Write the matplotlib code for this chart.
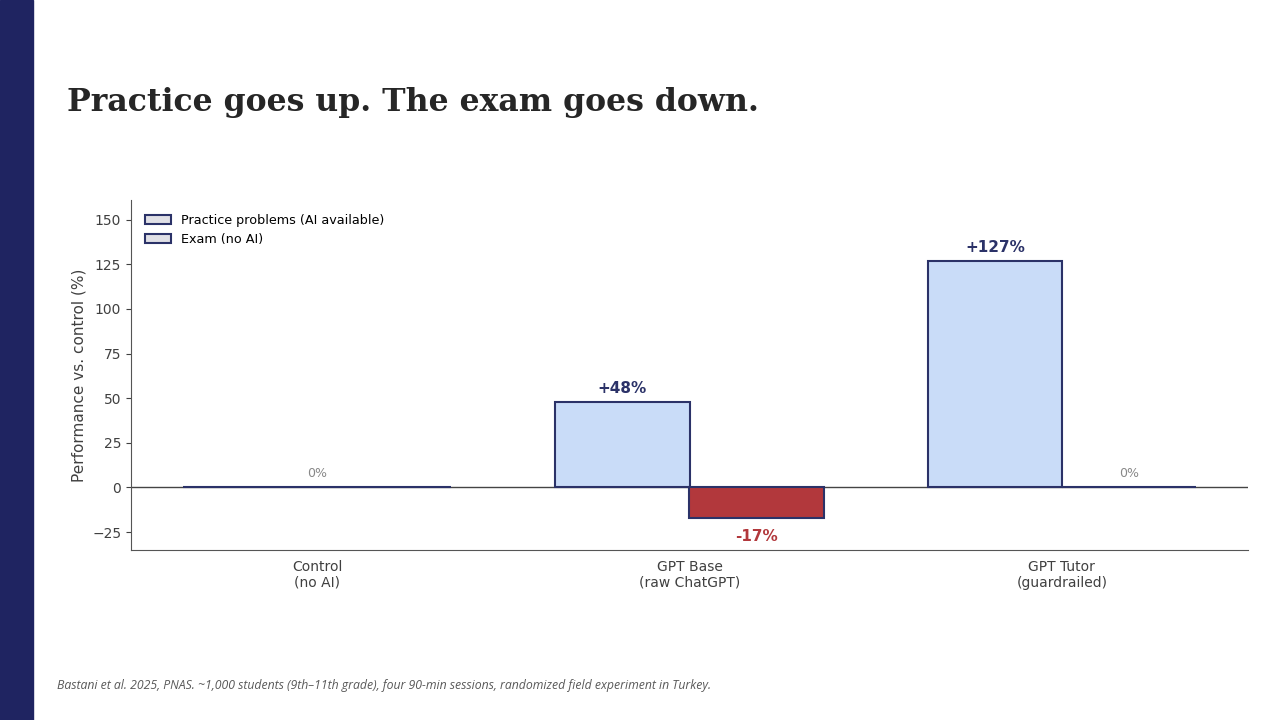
import numpy as np
import matplotlib.pyplot as plt
from matplotlib.patches import Rectangle, Patch

# data
groups = ['Control\n(no AI)', 'GPT Base\n(raw ChatGPT)', 'GPT Tutor\n(guardrailed)']
practice = [0, 48, 127]
exam = [0, -17, 0]
practice_labels = ['', '+48%', '+127%']
exam_labels = ['0%', '-17%', '0%']

navy = '#2b3268'
light_blue = '#c9dcf8'
red = '#b2383c'

fig = plt.figure(figsize=(12.8, 7.2), dpi=100)
fig.patch.set_facecolor('white')

# left stripe
fig.add_artist(Rectangle((0, 0), 33 / 1280, 1, transform=fig.transFigure,
                         color='#1f2461', zorder=0))

fig.text(67 / 1280, 1 - 103 / 720, 'Practice goes up. The exam goes down.',
         fontsize=22.7, fontweight='bold', family='DejaVu Serif', color='#262626',
         va='center', ha='left')

fig.text(57 / 1280, 1 - 685 / 720,
         'Bastani et al. 2025, PNAS. ~1,000 students (9th\u201311th grade), four 90-min sessions, '
         'randomized field experiment in Turkey.',
         fontsize=8.8, style='italic', family='Open Sans', color='#595959',
         va='center', ha='left')

ax = fig.add_axes([131 / 1280, 1 - 550 / 720, (1248 - 131) / 1280, 350 / 720])

x = np.arange(len(groups))
w = 0.36
ax.bar(x - w / 2, practice, w, color=light_blue, edgecolor=navy, linewidth=1.5, zorder=3)
exam_colors = [red if v < 0 else light_blue for v in exam]
ax.bar(x + w / 2, exam, w, color=exam_colors, edgecolor=navy, linewidth=1.5, zorder=3)

ax.axhline(0, color='#444444', linewidth=1, zorder=2)

for i, (v, lab) in enumerate(zip(practice, practice_labels)):
    if lab:
        ax.text(x[i] - w / 2, v + 3, lab, ha='center', va='bottom', fontsize=11,
                fontweight='bold', color=navy)
for i, (v, lab) in enumerate(zip(exam, exam_labels)):
    if v < 0:
        ax.text(x[i] + w / 2, v - 6.5, lab, ha='center', va='top', fontsize=11,
                fontweight='bold', color=red)
    elif i == 0:
        ax.text(x[i], 4, lab, ha='center', va='bottom', fontsize=9, color='#888888')
    else:
        ax.text(x[i] + w / 2, 4, lab, ha='center', va='bottom', fontsize=9, color='#888888')

ax.set_xlim(-0.5, 2.5)
ax.set_ylim(-35, 161)
ax.set_yticks([-25, 0, 25, 50, 75, 100, 125, 150])
ax.set_xticks(x)
ax.set_xticklabels(groups, fontsize=10, color='#404040')
ax.tick_params(axis='y', labelsize=10, colors='#404040')
ax.tick_params(axis='x', length=0, pad=7)
ax.set_ylabel('Performance vs. control (%)', fontsize=11, color='#404040')
for s in ['top', 'right']:
    ax.spines[s].set_visible(False)
for s in ['left', 'bottom']:
    ax.spines[s].set_color('#555555')

handles = [Patch(facecolor='#e0e0e6', edgecolor=navy, linewidth=1.5, label='Practice problems (AI available)'),
           Patch(facecolor='#e0e0e6', edgecolor=navy, linewidth=1.5, label='Exam (no AI)')]
ax.legend(handles=handles, loc='upper left', frameon=False, fontsize=9.2,
          handlelength=2, borderaxespad=0.7)

fig.savefig('out.png', dpi=100)
